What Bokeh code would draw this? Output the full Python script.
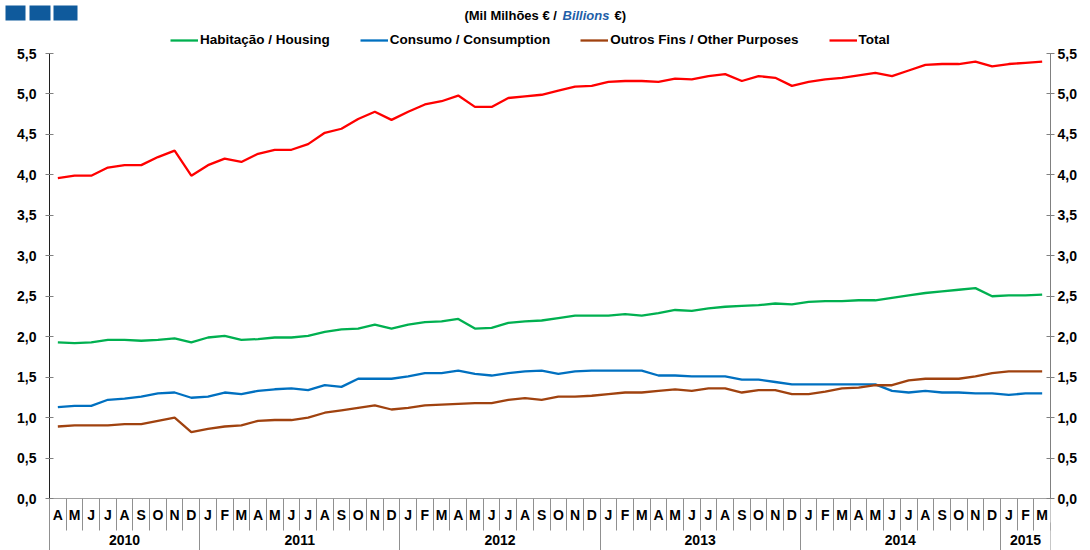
from bokeh.plotting import figure
from bokeh.models import (Range1d, LinearAxis, FixedTicker, CustomJSTickFormatter,
                          Legend, LegendItem, Label, BoxAnnotation)
from bokeh.embed import file_html
from bokeh.resources import INLINE

# ---------------- data ----------------
months = ["A", "M", "J", "J", "A", "S", "O", "N", "D",
          "J", "F", "M", "A", "M", "J", "J", "A", "S", "O", "N", "D",
          "J", "F", "M", "A", "M", "J", "J", "A", "S", "O", "N", "D",
          "J", "F", "M", "A", "M", "J", "J", "A", "S", "O", "N", "D",
          "J", "F", "M", "A", "M", "J", "J", "A", "S", "O", "N", "D",
          "J", "F", "M"]
years = ["2010", "2011", "2012", "2013", "2014", "2015"]
year_lengths = [9, 12, 12, 12, 12, 3]

housing = [1.93, 1.92, 1.93, 1.96, 1.96, 1.95, 1.96, 1.98, 1.93, 1.99,
           2.01, 1.96, 1.97, 1.99, 1.99, 2.01, 2.06, 2.09, 2.10, 2.15,
           2.10, 2.15, 2.18, 2.19, 2.22, 2.10, 2.11, 2.17, 2.19, 2.20,
           2.23, 2.26, 2.26, 2.26, 2.28, 2.26, 2.29, 2.33, 2.32, 2.35,
           2.37, 2.38, 2.39, 2.41, 2.40, 2.43, 2.44, 2.44, 2.45, 2.45,
           2.48, 2.51, 2.54, 2.56, 2.58, 2.60, 2.50, 2.51, 2.51, 2.52]
consumption = [1.13, 1.145, 1.145, 1.22, 1.235, 1.26, 1.30, 1.31, 1.245, 1.26,
               1.31, 1.29, 1.33, 1.35, 1.36, 1.34, 1.40, 1.38, 1.48, 1.48,
               1.48, 1.51, 1.55, 1.55, 1.58, 1.54, 1.52, 1.55, 1.57, 1.58,
               1.54, 1.57, 1.58, 1.58, 1.58, 1.58, 1.52, 1.52, 1.51, 1.51,
               1.51, 1.47, 1.47, 1.44, 1.41, 1.41, 1.41, 1.41, 1.41, 1.41,
               1.33, 1.31, 1.33, 1.31, 1.31, 1.30, 1.30, 1.28, 1.30, 1.30]
other = [0.89, 0.905, 0.905, 0.905, 0.92, 0.92, 0.96, 1.00, 0.82, 0.86,
         0.89, 0.905, 0.96, 0.97, 0.97, 1.00, 1.06, 1.09, 1.12, 1.15,
         1.10, 1.12, 1.15, 1.16, 1.17, 1.18, 1.18, 1.22, 1.24, 1.22,
         1.26, 1.26, 1.27, 1.29, 1.31, 1.31, 1.33, 1.35, 1.33, 1.36,
         1.36, 1.31, 1.34, 1.34, 1.29, 1.29, 1.32, 1.36, 1.37, 1.40,
         1.40, 1.46, 1.48, 1.48, 1.48, 1.51, 1.55, 1.57, 1.57, 1.57]
total = [3.96, 3.99, 3.99, 4.09, 4.12, 4.12, 4.22, 4.30, 3.99, 4.12,
         4.20, 4.16, 4.26, 4.31, 4.31, 4.38, 4.52, 4.57, 4.69, 4.78,
         4.68, 4.78, 4.87, 4.91, 4.98, 4.84, 4.84, 4.95, 4.97, 4.99,
         5.04, 5.09, 5.10, 5.15, 5.16, 5.16, 5.15, 5.19, 5.18, 5.22,
         5.245, 5.16, 5.22, 5.20, 5.10, 5.15, 5.18, 5.20, 5.23, 5.26,
         5.22, 5.29, 5.36, 5.37, 5.37, 5.40, 5.34, 5.37, 5.385, 5.40]

series_names = ["Habitação / Housing", "Consumo / Consumption",
                "Outros Fins / Other Purposes", "Total"]
series_colors = ["#00B050", "#0070C0", "#A0420F", "#FF0000"]
y_max = 5.5

# ---------------- derived positions ----------------
n = len(months)
x = [i + 0.5 for i in range(n)]
bounds = [0]
for L in year_lengths:
    bounds.append(bounds[-1] + L)
year_centers = [(bounds[i] + bounds[i + 1]) / 2 for i in range(len(years))]

FONT = "Liberation Sans"
W, H = 1090, 550
# data area on the page: x 49..1050, y 53..498; the frame covers x 0..1050, y 0..550
PLOT_LEFT, PLOT_RIGHT, PLOT_TOP, PLOT_BOTTOM = 49, 1050, 53, 498
YEAR_ROW_TOP = 522
px_per_month = (PLOT_RIGHT - PLOT_LEFT) / n
px_per_unit = (PLOT_BOTTOM - PLOT_TOP) / y_max
x_start = -PLOT_LEFT / px_per_month
y_start = -(H - PLOT_BOTTOM) / px_per_unit
y_end = y_max + PLOT_TOP / px_per_unit
year_axis_loc = -(YEAR_ROW_TOP - PLOT_BOTTOM) / px_per_unit


def sy(page_y):
    """screen units of annotations are measured up from the frame bottom"""
    return H - page_y


p = figure(width=W, height=H, output_backend="svg", toolbar_location=None,
           x_range=Range1d(x_start, n), y_range=Range1d(y_start, y_end),
           x_axis_location=None, y_axis_location=None,
           min_border_left=0, min_border_right=W - PLOT_RIGHT,
           min_border_top=0, min_border_bottom=0)
p.outline_line_color = None
p.xgrid.grid_line_color = None
p.ygrid.grid_line_color = None
p.background_fill_color = "white"
p.border_fill_color = "white"

# ---------------- y axes ----------------
yticker = FixedTicker(ticks=[i * 0.5 for i in range(12)], minor_ticks=[])
yfmt = CustomJSTickFormatter(code="return tick.toFixed(1).replace('.', ',');")
for side, standoff, lc, fixed in [("left", 9, "#202020", 0), ("right", 3, "#808080", None)]:
    ax = LinearAxis(ticker=yticker, formatter=yfmt, bounds=(0, y_max),
                    fixed_location=fixed)
    ax.axis_line_color = lc
    ax.major_tick_line_color = "#808080"
    ax.major_tick_in = 4
    ax.major_tick_out = 4
    ax.minor_tick_line_color = None
    ax.major_label_standoff = standoff
    ax.major_label_text_font = FONT
    ax.major_label_text_font_style = "bold"
    ax.major_label_text_font_size = "14px"
    ax.major_label_text_color = "black"
    p.add_layout(ax, side)

# ---------------- month axis ----------------
mfmt = CustomJSTickFormatter(args=dict(labels=months),
                             code="return labels[Math.floor(tick)];")
max_ = LinearAxis(ticker=FixedTicker(ticks=x, minor_ticks=list(range(n + 1))),
                  formatter=mfmt, bounds=(0, n), fixed_location=0)
max_.axis_line_color = "#A0A0A0"
max_.major_tick_line_color = None
max_.major_tick_in = 0
max_.major_tick_out = 0
max_.minor_tick_line_color = "#909090"
max_.minor_tick_in = 0
max_.minor_tick_out = 32
max_.major_label_standoff = -24
max_.major_label_text_font = FONT
max_.major_label_text_font_style = "bold"
max_.major_label_text_font_size = "14px"
max_.major_label_text_color = "black"
p.add_layout(max_, "below")

# ---------------- year axis ----------------
yrfmt = CustomJSTickFormatter(args=dict(labels=years, centers=year_centers),
                              code="""
for (let i = 0; i < centers.length; i++) {
  if (Math.abs(centers[i] - tick) < 1e-6) return labels[i];
}
return '';
""")
yax = LinearAxis(ticker=FixedTicker(ticks=year_centers, minor_ticks=bounds),
                 formatter=yrfmt, bounds=(0, n), fixed_location=year_axis_loc)
yax.axis_line_color = None
yax.major_tick_line_color = None
yax.major_tick_in = 0
yax.major_tick_out = 0
yax.minor_tick_line_color = "#909090"
yax.minor_tick_in = 0
yax.minor_tick_out = 28
yax.major_label_standoff = -16
yax.major_label_text_font = FONT
yax.major_label_text_font_style = "bold"
yax.major_label_text_font_size = "14px"
yax.major_label_text_color = "black"
p.add_layout(yax, "below")

# ---------------- lines ----------------
renderers = []
for vals, col in zip([housing, consumption, other, total], series_colors):
    r = p.line(x, vals, line_color=col, line_width=2.3)
    renderers.append(r)

legend = Legend(items=[LegendItem(label=nm, renderers=[r])
                       for nm, r in zip(series_names, renderers)],
                orientation="horizontal", location=(170, sy(47)),
                glyph_width=28, glyph_height=14, label_height=14,
                label_standoff=2, spacing=30, padding=0, margin=0,
                border_line_color=None, background_fill_alpha=0,
                label_text_font=FONT, label_text_font_style="bold",
                label_text_font_size="13.5px", label_text_color="black")
p.add_layout(legend, "center")

# ---------------- subtitle ----------------
sub_y = sy(15)
p.add_layout(Label(x=560, y=sub_y, x_units="screen", y_units="screen",
                   text="(Mil Milhões € / ", text_align="right", text_baseline="middle",
                   text_font=FONT, text_font_style="bold", text_font_size="13px",
                   text_color="black"))
p.add_layout(Label(x=562, y=sub_y, x_units="screen", y_units="screen",
                   text="Billions", text_align="left", text_baseline="middle",
                   text_font=FONT, text_font_style="bold italic", text_font_size="13px",
                   text_color="#1F5FA8"))
p.add_layout(Label(x=614, y=sub_y, x_units="screen", y_units="screen",
                   text="€)", text_align="left", text_baseline="middle",
                   text_font=FONT, text_font_style="bold", text_font_size="13px",
                   text_color="black"))

# ---------------- decorative squares ----------------
for l, r in [(5, 25), (29, 50), (53, 77)]:
    p.add_layout(BoxAnnotation(left=l, right=r, top=sy(5), bottom=sy(20),
                               left_units="screen", right_units="screen",
                               top_units="screen", bottom_units="screen",
                               fill_color="#0F5A9C", fill_alpha=1, line_color=None,
                               level="overlay"))

open("out.html", "w").write(file_html(p, INLINE))
